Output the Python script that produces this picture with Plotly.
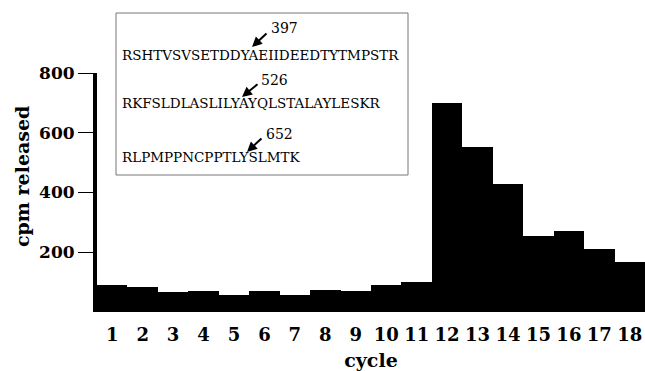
import plotly.graph_objects as go

cycles = list(range(1, 19))
cpm = [92, 83, 67, 71, 56, 70, 58, 74, 70, 89, 101, 698, 552, 428, 253, 271, 210, 166]
y_ticks = [200, 400, 600, 800]

sequences = ["RSHTVSVSETDDYAEIIDEEDTYTMPSTR",
             "RKFSLDLASLILYAYQLSTALAYLESKR",
             "RLPMPPNCPPTLYSLMTK"]
sites = ["397", "526", "652"]

W, H = 645, 371
L, R, T, B = 97, 0, 73, 59
PW, PH = W - L - R, H - T - B

def px(x):
    return (x - L) / PW

def py(y):
    return (H - B - y) / PH

fig = go.Figure(go.Bar(x=cycles, y=cpm, width=1, marker=dict(color="black", line=dict(width=0))))

serif_b = dict(family="DejaVu Serif", color="black", weight="bold")

fig.update_layout(
    width=W, height=H, margin=dict(l=L, r=R, t=T, b=B),
    paper_bgcolor="white", plot_bgcolor="white", showlegend=False,
    bargap=0,
    xaxis=dict(range=[0.5, 18.5], tickvals=cycles, ticks="outside", ticklen=6,
               tickcolor="rgba(0,0,0,0)", showline=False, showgrid=False,
               zeroline=False, tickfont=dict(size=18, **serif_b),
               title=dict(text="cycle", font=dict(size=19, **serif_b), standoff=14)),
    yaxis=dict(range=[0, 800], tickvals=y_ticks, ticks="outside", ticklen=15, tickwidth=1,
               tickcolor="black", showline=True, linewidth=4, linecolor="black",
               showgrid=False, zeroline=False, tickfont=dict(size=17, **serif_b)),
)

fig.add_annotation(xref="paper", yref="paper", x=px(22), y=py(177), text="cpm released",
                   textangle=-90, showarrow=False, xanchor="center", yanchor="middle",
                   font=dict(size=19, **serif_b))

fig.add_shape(type="rect", xref="paper", yref="paper", x0=px(116), x1=px(408), y0=py(175), y1=py(13),
              line=dict(color="#777777", width=1), fillcolor="rgba(0,0,0,0)")

seq_y = [55, 103, 157]
for s, yy in zip(sequences, seq_y):
    fig.add_annotation(xref="paper", yref="paper", x=px(120), y=py(yy), text=s, showarrow=False,
                       xanchor="left", yanchor="middle",
                       font=dict(family="DejaVu Serif", size=13.5, color="black"))

num_pos = [(269, 28), (259, 80), (264, 134)]
arrow_tail = [(268, 32), (259, 83), (263, 137)]
arrow_head = [(252, 47), (242, 97), (247, 152)]
for t, (nx, ny), (tx, ty), (hx, hy) in zip(sites, num_pos, arrow_tail, arrow_head):
    fig.add_annotation(xref="paper", yref="paper", x=px(nx), y=py(ny), text=t, showarrow=False,
                       xanchor="left", yanchor="middle",
                       font=dict(family="DejaVu Serif", size=14, color="black"))
    fig.add_annotation(xref="paper", yref="paper", x=px(hx), y=py(hy), ax=tx - hx, ay=ty - hy,
                       text="", showarrow=True,
                       arrowhead=2, arrowsize=1, arrowwidth=2, arrowcolor="black")

fig.write_html("out.html", config={"displayModeBar": False},
               post_script="document.body.style.margin='0';document.body.style.overflow='hidden';")
